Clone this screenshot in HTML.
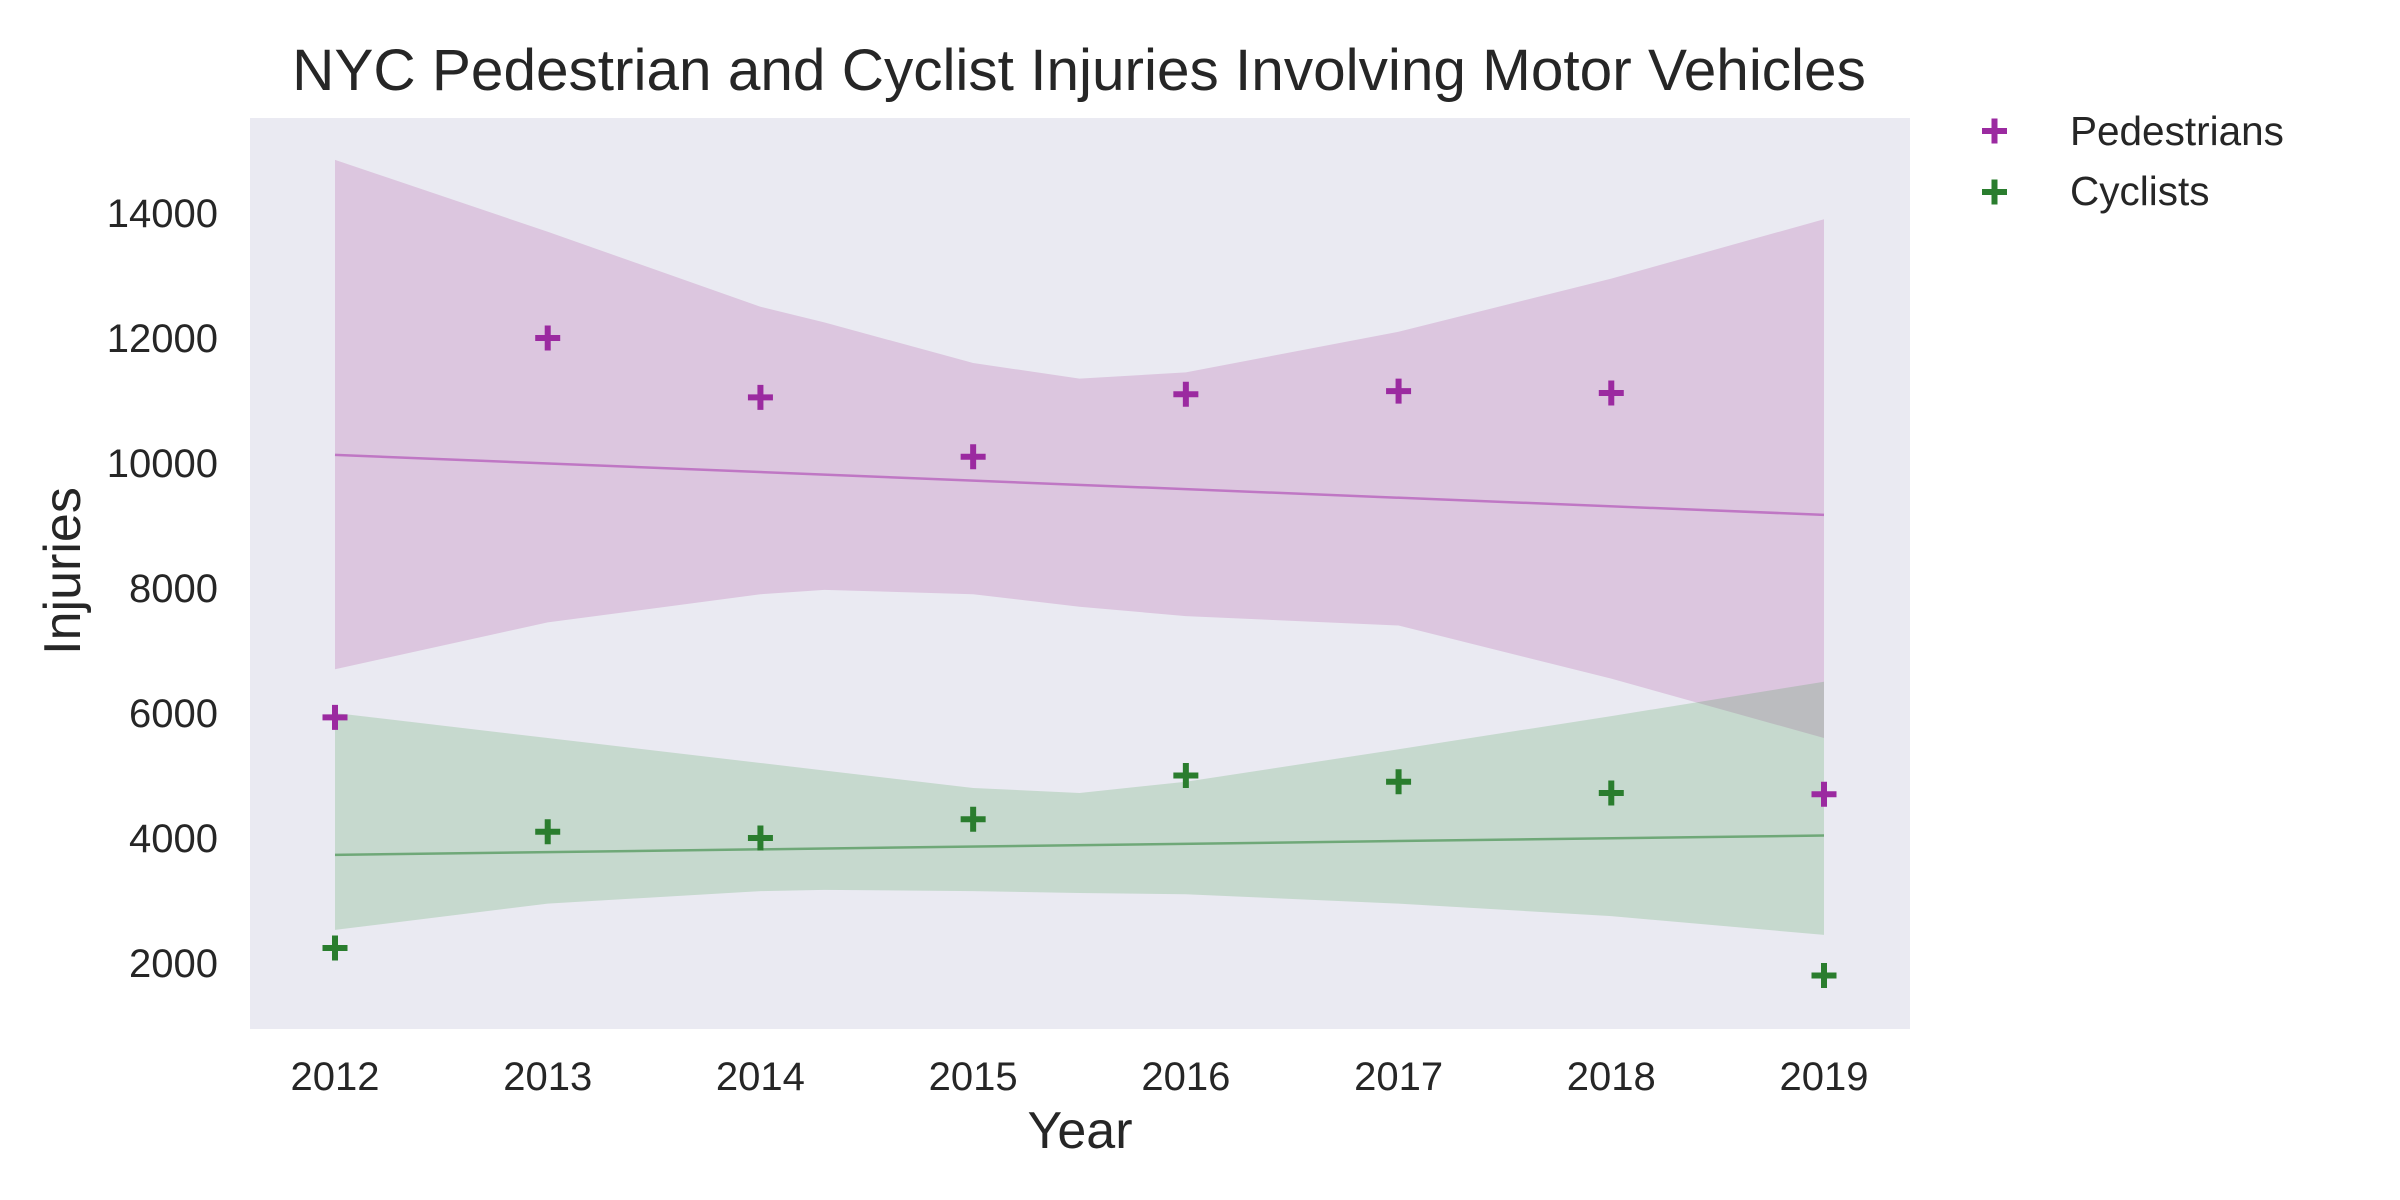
<!DOCTYPE html>
<html><head><meta charset="utf-8"><style>
html,body{margin:0;padding:0;background:#fff;}
svg{display:block;font-family:"Liberation Sans",Arial,sans-serif;}
</style></head><body>
<svg id="chart" width="2400" height="1200" viewBox="0 0 2400 1200">
<rect x="250" y="118" width="1660" height="911" fill="#eaeaf2"/>
<g id="bands"></g><g id="lines"></g><g id="points"></g><g id="axes"></g>
<text x="1079" y="90" text-anchor="middle" font-size="58.5" fill="#262626">NYC Pedestrian and Cyclist Injuries Involving Motor Vehicles</text>
<text x="1080" y="1148" text-anchor="middle" font-size="52" fill="#262626">Year</text>
<text transform="translate(80,571) rotate(-90)" text-anchor="middle" font-size="52" fill="#262626">Injuries</text>
<g>
<g>
<path d="M1982 131h25M1994.5 118.5v25" stroke="#9b2aa0" stroke-width="6"/>
<text x="2070" y="145" font-size="40.5" fill="#262626">Pedestrians</text></g>
<g>
<path d="M1982 192h25M1994.5 179.5v25" stroke="#2a7d2e" stroke-width="6"/>
<text x="2070" y="205" font-size="40.5" fill="#262626">Cyclists</text></g>
</g>
</svg>
<script>
const years=[2012,2013,2014,2015,2016,2017,2018,2019];
const pedestrians=[5930,12000,11050,10100,11100,11150,11120,4700];
const cyclists=[2240,4100,4000,4300,5000,4900,4720,1800];
const pedFit=[10130,9170];
const cycFit=[3730,4040];
const bandYears=[2012,2013,2014,2014.3,2015,2015.5,2016,2017,2018,2019];
const pedUpper=[14850,13700,12500,12250,11600,11350,11450,12100,12950,13900];
const pedLower=[6700,7450,7900,7970,7900,7700,7550,7400,6550,5600];
const cycUpper=[6000,5600,5200,5080,4800,4720,4900,5420,5950,6500];
const cycLower=[2530,2950,3150,3170,3150,3120,3100,2950,2750,2450];
const yTicks=[2000,4000,6000,8000,10000,12000,14000];
const NS='http://www.w3.org/2000/svg';
const x=v=>335+(v-2012)*(1824-335)/7;
const y=v=>213+(14000-v)*0.0625;
function mk(tag,attrs,parent){const e=document.createElementNS(NS,tag);for(const k in attrs)e.setAttribute(k,attrs[k]);document.getElementById(parent).appendChild(e);return e;}
function band(up,lo,fill,name){
  let d='M'+bandYears.map((t,i)=>x(t)+' '+y(up[i])).join(' L');
  for(let i=bandYears.length-1;i>=0;i--)d+=' L'+x(bandYears[i])+' '+y(lo[i]);
  const p=mk('path',{d:d+'Z',fill:fill,'fill-opacity':0.2},'bands');
  
  
}
band(pedUpper,pedLower,'rgb(164,54,152)','pedestrians-ci-band');
band(cycUpper,cycLower,'rgb(54,149,67)','cyclists-ci-band');
const l1=mk('line',{x1:x(2012),y1:y(pedFit[0]),x2:x(2019),y2:y(pedFit[1]),stroke:'#bf77c4','stroke-width':2.5},'lines');


const l2=mk('line',{x1:x(2012),y1:y(cycFit[0]),x2:x(2019),y2:y(cycFit[1]),stroke:'#6fa878','stroke-width':2.5},'lines');


function pts(arr,col,name){arr.forEach((v,i)=>{const cx=x(years[i]),cy=y(v);
  const p=mk('path',{d:`M${cx-12.5} ${cy}h25M${cx} ${cy-12.5}v25`,stroke:col,'stroke-width':6},'points');
  
  });}
pts(pedestrians,'#9b2aa0','pedestrians');
pts(cyclists,'#2a7d2e','cyclists');
years.forEach(t=>{const e=mk('text',{x:x(t),y:1090,'text-anchor':'middle','font-size':40,fill:'#262626'},'axes');e.textContent=t;
  
  });
yTicks.forEach(v=>{const e=mk('text',{x:218,y:y(v)+14,'text-anchor':'end','font-size':40,fill:'#262626'},'axes');e.textContent=v;
  
  });
</script>
</body></html>
